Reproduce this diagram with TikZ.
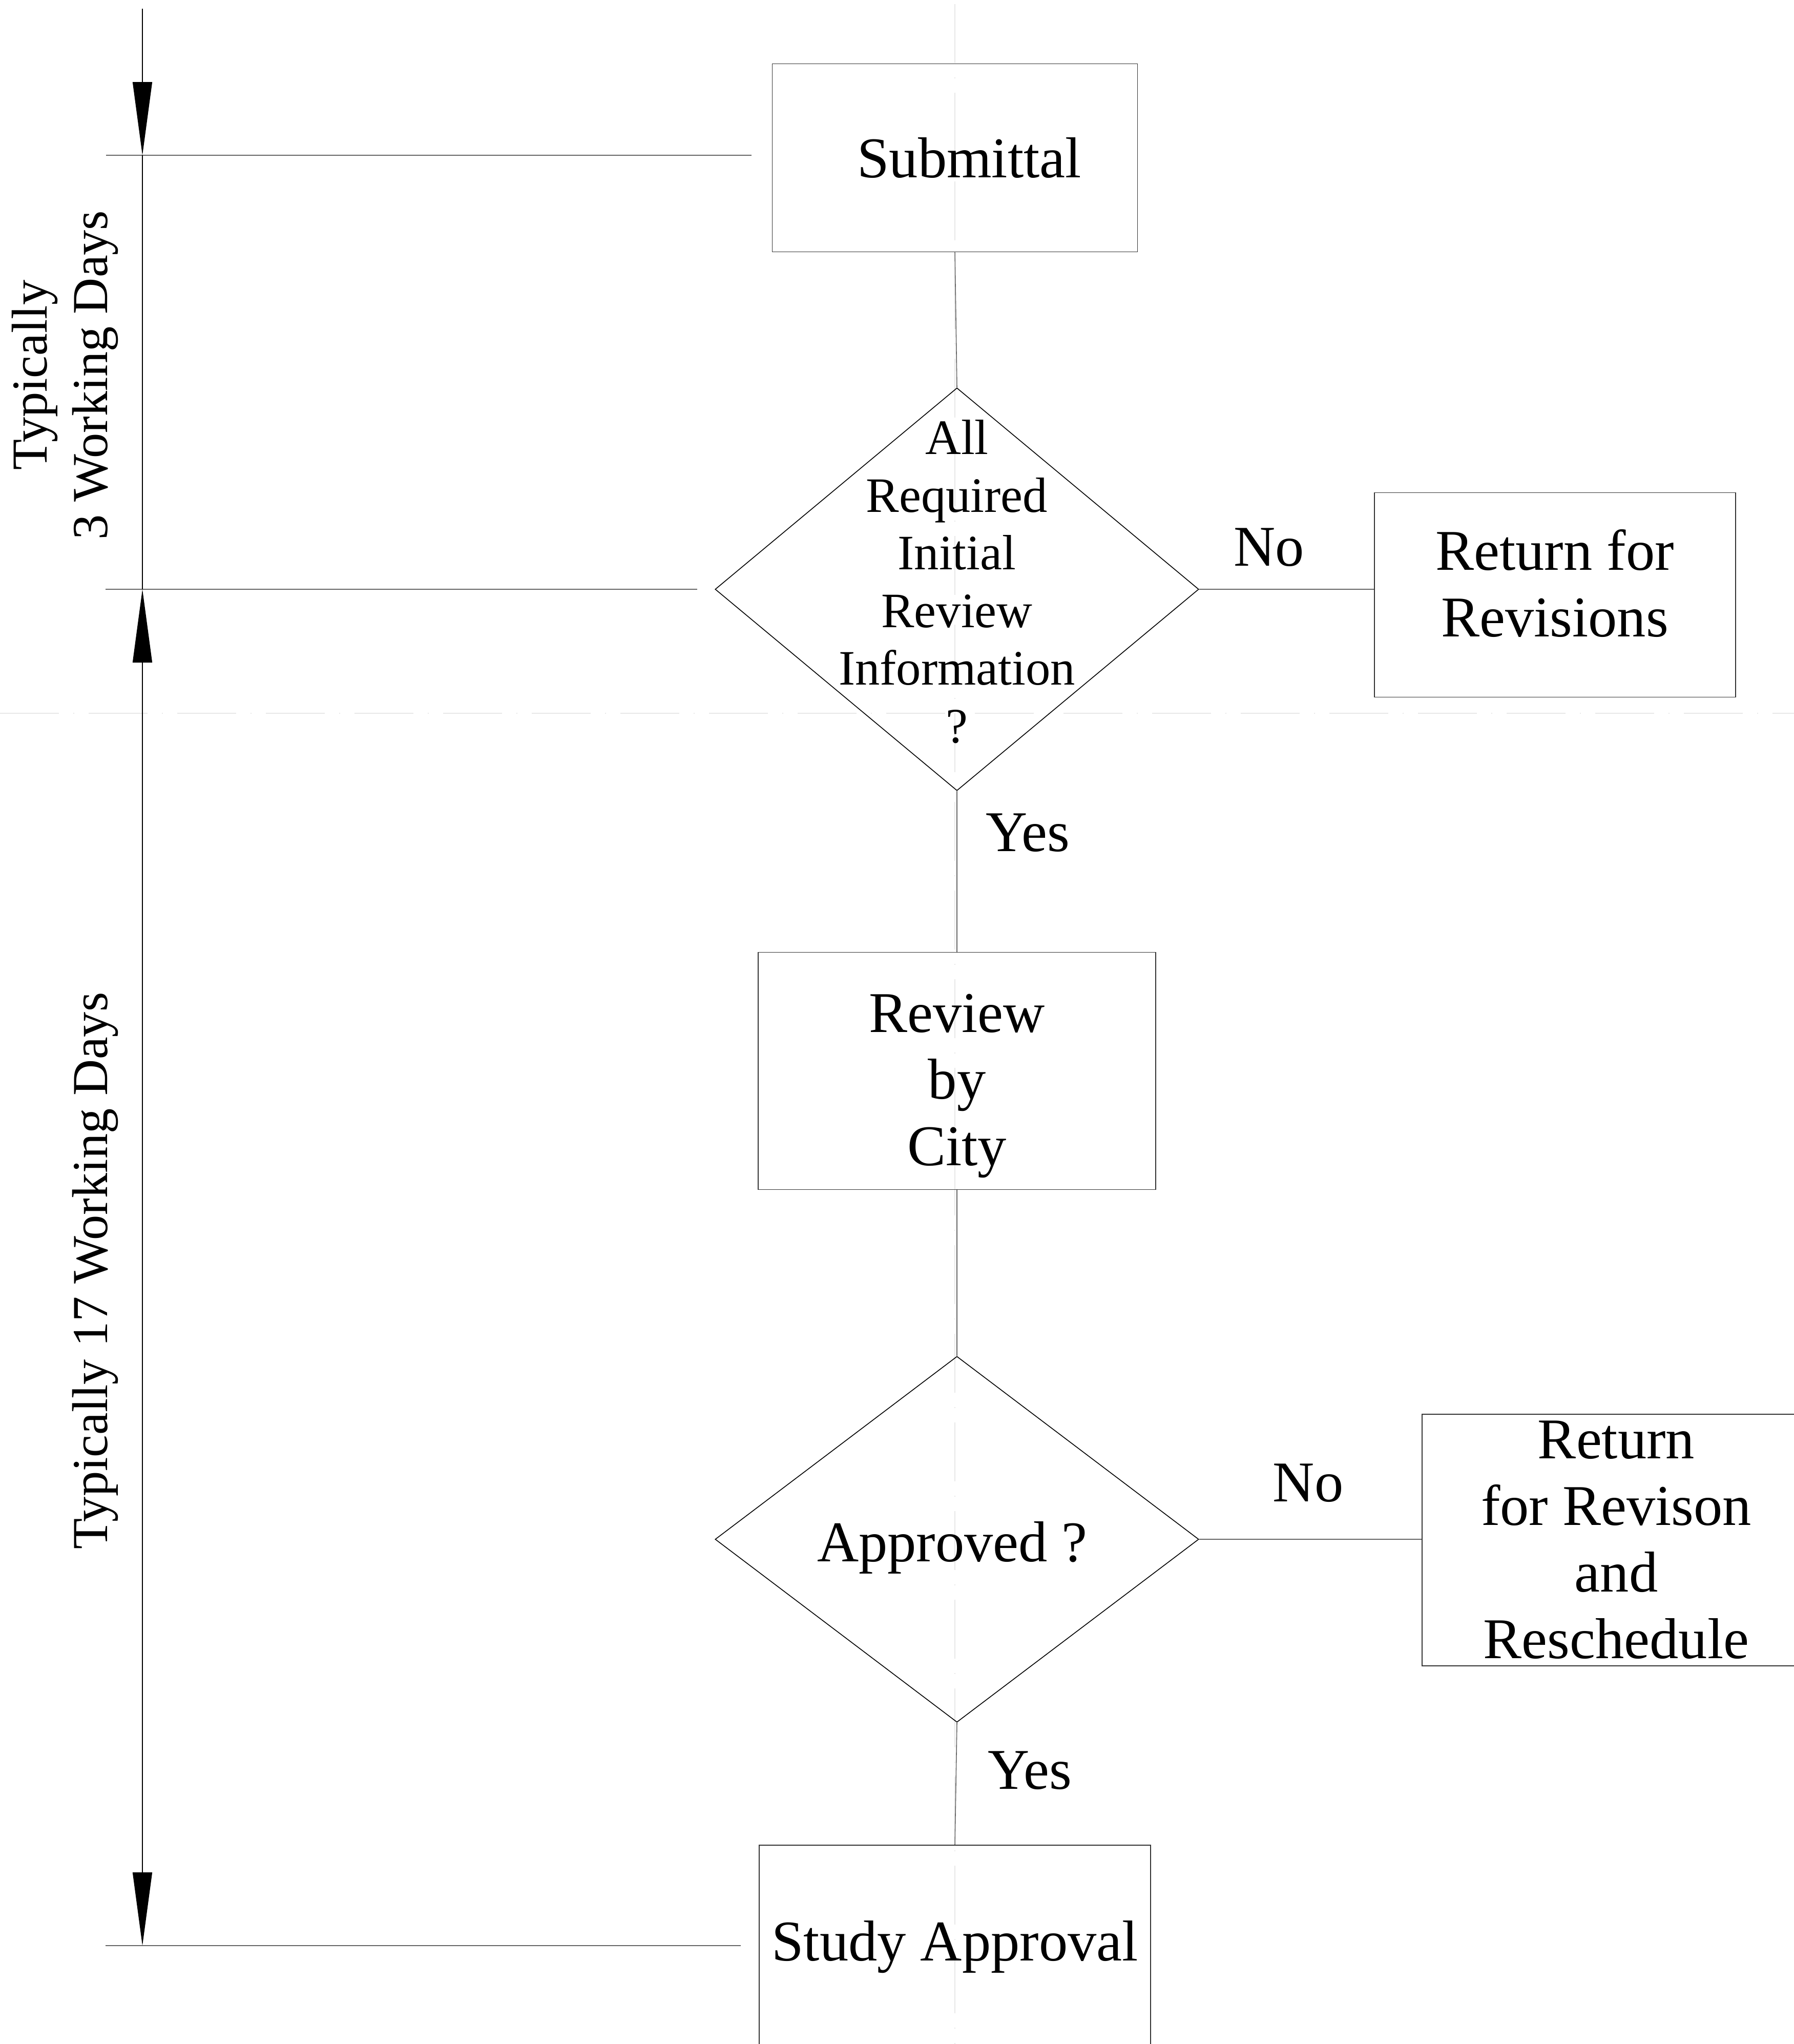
\documentclass[tikz,border=0pt]{standalone}
\usepackage{fontspec}
\setmainfont{Liberation Serif}
\usepackage{tikz}
\usetikzlibrary{shapes.geometric,arrows.meta,positioning,calc}

\begin{document}
\begin{tikzpicture}[
    node distance=0.3cm,
    stepbox/.style={rectangle, draw=black!80, line width=0.55pt, inner sep=0, align=center, font=\fontsize{32pt}{37pt}\selectfont},
    decision/.style={diamond, draw, line width=0.45pt, inner sep=0},
    question/.style={align=center, inner sep=0, font=\fontsize{27.5pt}{32pt}\selectfont},
    answer/.style={inner sep=0, font=\fontsize{32pt}{37pt}\selectfont},
    link/.style={draw=black!60, line width=0.45pt},
    extline/.style={draw=black!60, line width=0.6pt},
    dimline/.style={line width=0.45pt},
    dimarrow/.style={-{Triangle[length=1.43cm,width=0.38cm]}},
    period/.style={rotate=90, align=center, inner sep=0, font=\fontsize{28pt}{33.5pt}\selectfont},
    centreline/.style={draw=black!9, line width=0.8pt, dash pattern=on 1.15cm off 0.28cm on 0.02cm off 0.28cm}
]
    \useasboundingbox (0,0) rectangle (35.02,-39.89);
    \clip (0,0) rectangle (35.02,-39.89);

    % Construction lines
    \draw[centreline] (18.64,-0.08) -- (18.64,-39.89);
    \draw[centreline] (0,-13.92) -- (35.02,-13.92);

    % Submittal box
    \node[stepbox, minimum width=7.13cm, minimum height=3.67cm] (sub) at (18.64,-3.08) {\hspace*{0.56cm}Submittal};

    % First decision
    \node[decision, minimum width=9.44cm, minimum height=7.86cm] (d1) at (18.68,-11.50) {};
    \node[question] (d1text) at (18.68,-11.35) {All\\Required\\Initial\\Review\\Information\\?};

    % Return for revisions
    \node[stepbox, minimum width=7.05cm, minimum height=3.99cm] (ret1) at (30.35,-11.61) {Return for\\Revisions\rule[-0.46cm]{0pt}{0.01cm}};

    % Review by city
    \node[stepbox, minimum width=7.76cm, minimum height=4.63cm] (rev) at (18.68,-20.90) {\rule{0pt}{1.33cm}Review\\by\\City};

    % Second decision
    \node[decision, minimum width=9.44cm, minimum height=7.14cm] (d2) at (18.68,-30.04) {};
    \node[question, font=\fontsize{32pt}{37pt}\selectfont] (d2text) at (18.59,-30.20) {Approved ?};

    % Return for revison and reschedule
    \node[stepbox, minimum width=7.58cm, minimum height=4.91cm] (ret2) at (31.55,-30.05) {Return\\for Revison\\and\\Reschedule};

    % Study approval
    \node[stepbox, minimum width=7.64cm, minimum height=3.98cm] (study) at (18.64,-38.00) {Study Approval};

    % Connectors
    \draw[link] (sub.south) -- (d1.north);
    \draw[link] (d1.east) -- node[answer, above=0.44cm, pos=0.4] {No} (d1.east -| ret1.west);
    \draw[link] (d1.south) -- node[answer, right=0.56cm, pos=0.26] {Yes} (rev.north);
    \draw[link] (rev.south) -- (d2.north);
    \draw[link] (d2.east) -- node[answer, above=0.72cm, pos=0.49] {No} (d2.east -| ret2.west);
    \draw[link] (d2.south) -- node[answer, right=0.61cm, pos=0.39] {Yes} (study.north);

    % Time scale on the left
    \coordinate (dimtop) at (2.78,-0.17);
    \coordinate (dima) at (2.78,-3.03);
    \coordinate (dimb) at (2.78,-11.50);
    \coordinate (dimc) at (2.78,-37.97);
    \coordinate (exta) at (14.67,-3.03);
    \coordinate (extb) at (13.61,-11.50);
    \coordinate (extc) at (14.46,-37.97);

    \draw[extline] ($(dima)+(-0.71,0)$) -- (exta);
    \draw[extline] ($(dimb)+(-0.72,0)$) -- (extb);
    \draw[extline] ($(dimc)+(-0.72,0)$) -- (extc);

    \draw[dimline, dimarrow] (dimtop) -- (dima);
    \draw[dimline] (dima) -- (dimb);
    \draw[dimline, {Triangle[length=1.43cm,width=0.38cm]}-{Triangle[length=1.43cm,width=0.38cm]}] (dimb) -- (dimc);

    \node[period] (days3) at (1.27,-7.32) {Typically\\3 Working Days};
    \node[period] (days17) at (1.86,-24.80) {Typically 17 Working Days};
\end{tikzpicture}
\end{document}
